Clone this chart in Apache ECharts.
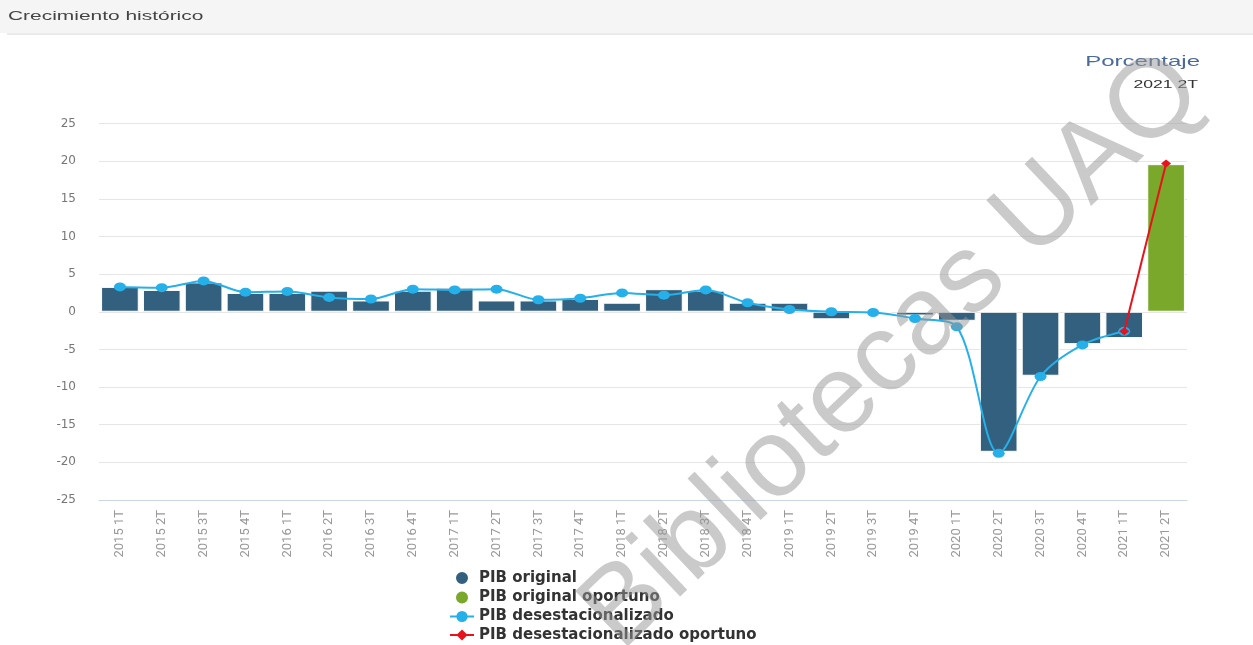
<!DOCTYPE html>
<html>
<head>
<meta charset="utf-8">
<script src="https://cdn.jsdelivr.net/npm/echarts@6/dist/echarts.min.js"></script>
<style>
  html, body { margin: 0; padding: 0; background: #fff; }
  #chart { width: 1253px; height: 645px; }
</style>
</head>
<body>
<div id="chart"></div>
<script>
// trimestres
var categorias = ['2015 1T', '2015 2T', '2015 3T', '2015 4T', '2016 1T', '2016 2T', '2016 3T', '2016 4T',
  '2017 1T', '2017 2T', '2017 3T', '2017 4T', '2018 1T', '2018 2T', '2018 3T', '2018 4T',
  '2019 1T', '2019 2T', '2019 3T', '2019 4T', '2020 1T', '2020 2T', '2020 3T', '2020 4T',
  '2021 1T', '2021 2T'];

var pibOriginal = [3.3, 2.9, 3.9, 2.5, 2.5, 2.8, 1.5, 2.8, 3.2, 1.5, 1.5, 1.7, 1.2, 3.0, 2.8, 1.2,
  1.2, -1.0, -0.1, -0.5, -1.2, -18.6, -8.5, -4.3, -3.5, null];
var pibOriginalOportuno = [null, null, null, null, null, null, null, null, null, null, null, null, null,
  null, null, null, null, null, null, null, null, null, null, null, null, 19.6];
var pibDesest = [3.3, 3.2, 4.1, 2.6, 2.7, 1.9, 1.7, 3.0, 2.9, 3.0, 1.6, 1.8, 2.5, 2.2, 2.9, 1.2,
  0.3, 0.0, -0.1, -0.9, -2.0, -18.8, -8.6, -4.4, -2.6, null];
var pibDesestOportuno = [null, null, null, null, null, null, null, null, null, null, null, null, null,
  null, null, null, null, null, null, null, null, null, null, null, -2.6, 19.7];

var chart = echarts.init(document.getElementById('chart'));

var option = {
  animation: false,
  graphic: [
    { type: 'rect', shape: { x: 0, y: 0, width: 1253, height: 33 }, style: { fill: '#f5f5f5' }, z: -10 },
    { type: 'rect', shape: { x: 7, y: 33, width: 1246, height: 2 }, style: { fill: '#ebebeb' }, z: -10 },
    {
      type: 'text', x: 8, y: 16, scaleX: 1.55,
      style: { text: 'Crecimiento histórico', fill: '#444', font: '13.5px "Liberation Sans", Arial', verticalAlign: 'middle' }
    },
    {
      type: 'text', x: 1200, y: 62, scaleX: 1.6,
      style: { text: 'Porcentaje', fill: '#4a6a9c', font: '15px "Liberation Sans", Arial', align: 'right', verticalAlign: 'middle' }
    },
    {
      type: 'text', x: 1198, y: 85, scaleX: 1.6,
      style: { text: '2021 2T', fill: '#333', font: '11px "Liberation Sans", Arial', align: 'right', verticalAlign: 'middle' }
    },
    {
      type: 'text', x: 893, y: 352, rotation: 0.76, z: 100,
      style: {
        text: 'Bibliotecas UAQ', fill: 'rgba(150,150,150,0.5)',
        font: '111px "Liberation Sans", Arial', align: 'center', verticalAlign: 'middle'
      }
    }
  ],
  legend: {
    orient: 'vertical',
    left: 449,
    top: 570,
    padding: 0,
    itemGap: 3.5,
    itemWidth: 24,
    itemHeight: 14,
    textStyle: { color: '#333', fontWeight: 'bold', fontSize: 15, lineHeight: 15, fontFamily: 'DejaVu Sans' },
    data: [
      { name: 'PIB original', icon: 'circle' },
      { name: 'PIB original oportuno', icon: 'circle' },
      { name: 'PIB desestacionalizado' },
      { name: 'PIB desestacionalizado oportuno' }
    ]
  },
  grid: { left: 99, right: 66, top: 123.5, bottom: 145 },
  xAxis: {
    type: 'category',
    data: categorias,
    axisLine: { onZero: false, lineStyle: { color: '#ccd6eb' } },
    axisTick: { length: 9, lineStyle: { color: '#ccd6eb' } },
    axisLabel: { rotate: 90, interval: 0, color: '#999', fontSize: 13, fontFamily: 'Roboto', margin: 10 }
  },
  yAxis: {
    type: 'value',
    min: -25,
    max: 25,
    interval: 5,
    axisLine: { show: false },
    axisTick: { show: false },
    axisLabel: { color: '#777', fontSize: 12, margin: 23, fontFamily: 'DejaVu Sans' },
    splitLine: { lineStyle: { color: '#e6e6e6' } }
  },
  series: [
    {
      name: 'PIB original', type: 'bar', data: pibOriginal,
      barCategoryGap: '10%', barGap: '-100%',
      itemStyle: { color: '#34607f', borderColor: '#fff', borderWidth: 1 }
    },
    {
      name: 'PIB original oportuno', type: 'bar', data: pibOriginalOportuno,
      barCategoryGap: '10%', barGap: '-100%',
      itemStyle: { color: '#7aa82a', borderColor: '#fff', borderWidth: 1 }
    },
    {
      name: 'PIB desestacionalizado', type: 'line', data: pibDesest, smooth: 0.3,
      symbol: 'circle', symbolSize: [12, 9], z: 5,
      lineStyle: { color: '#25b0ea', width: 2 },
      itemStyle: { color: '#25b0ea' }
    },
    {
      name: 'PIB desestacionalizado oportuno', type: 'line', data: pibDesestOportuno,
      symbol: 'diamond', symbolSize: [10, 8], z: 6,
      lineStyle: { color: '#e8121c', width: 2 },
      itemStyle: { color: '#e8121c' }
    }
  ]
};

chart.setOption(option);
</script>
</body>
</html>
